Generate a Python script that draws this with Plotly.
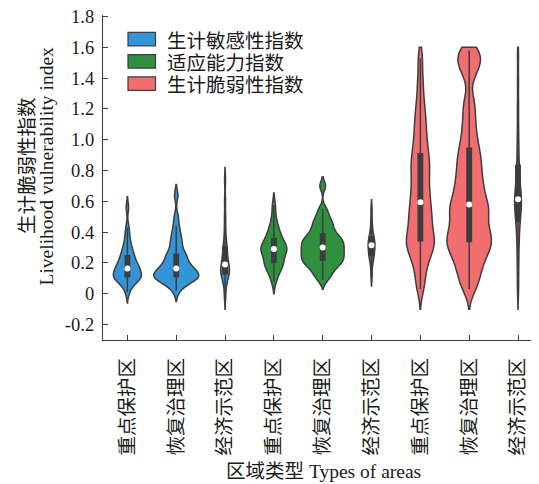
import numpy as np
import plotly.graph_objects as go

# ---------------- data ----------------
areas = ["重点保护区", "恢复治理区", "经济示范区"]
index_names = ["生计敏感性指数", "适应能力指数", "生计脆弱性指数"]
y_tickvals = [-0.2, 0, 0.2, 0.4, 0.6, 0.8, 1.0, 1.2, 1.4, 1.6, 1.8]
y_ticktext = ["-0.2", "0", "0.2", "0.4", "0.6", "0.8", "1.0", "1.2", "1.4", "1.6", "1.8"]
x_title = "区域类型 Types of areas"
y_title_cn = "生计脆弱性指数"
y_title_en = "Livelihood vulnerability index"

# sensitivity index samples
sens_key = [0.01, 0.05, 0.07, 0.08, 0.09, 0.10, 0.10, 0.11, 0.11, 0.12, 0.12, 0.13, 0.14, 0.15,
            0.16, 0.165, 0.17, 0.18, 0.19, 0.20, 0.21, 0.23, 0.24, 0.25, 0.27, 0.29, 0.31, 0.34,
            0.38, 0.43, 0.56]
sens_rest = [0.02, 0.05, 0.07, 0.08, 0.09, 0.09, 0.10, 0.10, 0.11, 0.11, 0.12, 0.12, 0.13, 0.13,
             0.14, 0.15, 0.16, 0.165, 0.17, 0.18, 0.19, 0.20, 0.22, 0.24, 0.25, 0.25, 0.26, 0.30,
             0.32, 0.34, 0.37, 0.40, 0.44, 0.50, 0.64]
sens_econ = [-0.02, 0.04, 0.08, 0.10, 0.12, 0.125, 0.13, 0.14, 0.15, 0.16, 0.17, 0.18, 0.19,
             0.20, 0.22, 0.24, 0.26, 0.28, 0.30, 0.32, 0.36, 0.42, 0.50, 0.60, 0.74]
# adaptive capacity index samples
adapt_key = [0.08, 0.12, 0.15, 0.17, 0.18, 0.19, 0.20, 0.21, 0.23, 0.25, 0.26, 0.27, 0.28, 0.29,
             0.295, 0.30, 0.31, 0.32, 0.33, 0.35, 0.36, 0.38, 0.40, 0.42, 0.45, 0.50, 0.575]
adapt_rest = [0.09, 0.12, 0.14, 0.16, 0.18, 0.19, 0.20, 0.21, 0.22, 0.23, 0.24, 0.25, 0.26, 0.27,
              0.28, 0.29, 0.30, 0.31, 0.32, 0.33, 0.34, 0.35, 0.36, 0.37, 0.385, 0.40, 0.42, 0.44,
              0.46, 0.48, 0.51, 0.55, 0.70]
adapt_econ = [0.11, 0.17, 0.21, 0.23, 0.24, 0.25, 0.27, 0.28, 0.29, 0.30, 0.315, 0.32, 0.33, 0.34,
              0.35, 0.365, 0.38, 0.40, 0.43, 0.48, 0.55]
# vulnerability index samples
vuln_key = [0.03, 0.09, 0.15, 0.20, 0.23, 0.26, 0.29, 0.31, 0.32, 0.34, 0.35, 0.38, 0.40, 0.43,
            0.45, 0.48, 0.50, 0.53, 0.55, 0.58, 0.61, 0.64, 0.67, 0.70, 0.74, 0.77, 0.80, 0.84,
            0.86, 0.89, 0.93, 0.97, 1.01, 1.06, 1.11, 1.16, 1.22, 1.30, 1.40, 1.53]
vuln_rest = [0.03, 0.08, 0.13, 0.17, 0.20, 0.24, 0.27, 0.29, 0.31, 0.33, 0.35, 0.37, 0.39, 0.42,
             0.44, 0.47, 0.50, 0.53, 0.55, 0.57, 0.59, 0.62, 0.66, 0.69, 0.72, 0.76, 0.80, 0.84,
             0.88, 0.92, 0.97, 1.03, 1.10, 1.18, 1.26, 1.42, 1.48, 1.52, 1.55, 1.58]
vuln_econ = [0.03, 0.15, 0.25, 0.33, 0.39, 0.44, 0.48, 0.51, 0.54, 0.56, 0.58, 0.60, 0.614, 0.63,
             0.66, 0.69, 0.72, 0.76, 0.82, 0.88, 0.97, 1.08, 1.22, 1.38, 1.55]

series = [
    [sens_key, sens_rest, sens_econ],
    [adapt_key, adapt_rest, adapt_econ],
    [vuln_key, vuln_rest, vuln_econ],
]

# ---------------- style ----------------
colors = ["#3394d8", "#2f9140", "#f26d6f"]
edge = "#3d3d3d"
violin_widths = [0.574, 0.92, 0.18, 0.53, 0.88, 0.14, 0.57, 0.91, 0.14]
bandwidths = [0.035, 0.035, 0.04, 0.04, 0.03, 0.03, 0.065, 0.065, 0.065]
clip_top = 1.6
box_full_width = 0.09  # data units

# the page body adds an 8px margin: figure is placed at (8, 8) in the window
OFF = 8
WIN_W, WIN_H = 539, 484
W, H = WIN_W - OFF, WIN_H - OFF
plot_left, plot_top, plot_bottom = 103, 15, 340   # window pixels
y_range = [-0.3, 1.81]
L, R, T, B = plot_left - OFF, 0, plot_top - OFF, H - (plot_bottom - OFF)
PW, PH = W - L - R, H - T - B

def px_x(px):
    return (px - OFF - L) / PW

def px_y(py):
    return (H - B - (py - OFF)) / PH

serif_cjk = "Liberation Serif, 'Times New Roman', 'Noto Sans CJK SC', serif"
cjk = "'Noto Sans CJK SC', sans-serif"
txt = "#1a1a1a"

fig = go.Figure()
pos = 0
positions, medians, labels = [], [], []
for gi, samples in enumerate(series):
    for ai, vals in enumerate(samples):
        w = violin_widths[pos]
        bw = bandwidths[pos]
        extra = {}
        if gi == 2:
            extra = dict(spanmode="manual", span=[min(vals) - 2 * bw, clip_top])
        fig.add_trace(go.Violin(
            y=vals, x0=pos, name=index_names[gi], legendgroup=index_names[gi],
            showlegend=False, width=w, bandwidth=bw, scalemode="width",
            fillcolor=colors[gi], opacity=1,
            line=dict(color=edge, width=1.5),
            points=False, hoverinfo="skip",
            box=dict(visible=True, width=min(box_full_width / w, 0.8),
                     fillcolor=edge, line=dict(color=edge, width=1.5)),
            meanline=dict(visible=False),
            **extra,
        ))
        positions.append(pos)
        medians.append(float(np.median(vals)))
        labels.append(areas[ai])
        pos += 1

fig.add_trace(go.Scatter(
    x=positions, y=medians, mode="markers",
    marker=dict(color="white", size=6, line=dict(width=0)),
    showlegend=False, hoverinfo="skip",
))

# legend drawn like the reference (wide swatches)
shapes = []
annotations = []
for i, name in enumerate(index_names):
    top = 32.3 + 22.3 * i
    shapes.append(dict(type="rect", xref="paper", yref="paper",
                       x0=px_x(128), x1=px_x(155.5), y0=px_y(top + 13.5), y1=px_y(top),
                       fillcolor=colors[i], line=dict(color=edge, width=1.2), layer="above"))
    annotations.append(dict(x=px_x(165), y=px_y(top + 7), xref="paper", yref="paper",
                            text=name, showarrow=False, xanchor="left", yanchor="middle",
                            font=dict(family=cjk, size=19.5, color=txt)))

annotations.append(dict(x=px_x(25), y=px_y(166), xref="paper", yref="paper", text=y_title_cn,
                        textangle=-90, showarrow=False, xanchor="center", yanchor="middle",
                        font=dict(family=cjk, size=19.5, color=txt)))
annotations.append(dict(x=px_x(45.5), y=px_y(166), xref="paper", yref="paper", text=y_title_en,
                        textangle=-90, showarrow=False, xanchor="center", yanchor="middle",
                        font=dict(family=serif_cjk, size=19.5, color=txt)))
annotations.append(dict(x=px_x(323), y=px_y(471), xref="paper", yref="paper", text=x_title,
                        showarrow=False, xanchor="center", yanchor="middle",
                        font=dict(family=serif_cjk, size=19.5, color=txt)))

fig.update_layout(
    width=W, height=H,
    margin=dict(l=L, r=R, t=T, b=B, pad=0),
    paper_bgcolor="white", plot_bgcolor="white",
    violinmode="overlay",
    showlegend=False,
    shapes=shapes, annotations=annotations,
    font=dict(family=serif_cjk, size=19, color=txt),
)
fig.update_xaxes(
    type="linear", range=[-0.5, 8.43], tickmode="array",
    tickvals=positions, ticktext=labels, tickangle=-90,
    tickfont=dict(family=cjk, size=19.5, color=txt),
    ticks="inside", ticklen=5, tickwidth=1.2, tickcolor=edge,
    showline=True, linecolor=edge, linewidth=1.3, showgrid=False, zeroline=False,
    ticklabelstandoff=9, automargin=False, ticklabeloverflow="allow",
)
fig.update_yaxes(
    range=y_range, tickmode="array", tickvals=y_tickvals, ticktext=y_ticktext,
    tickfont=dict(family=serif_cjk, size=18.5, color=txt),
    ticks="inside", ticklen=5, tickwidth=1.2, tickcolor=edge,
    showline=True, linecolor=edge, linewidth=1.3, showgrid=False, zeroline=False,
    ticklabelstandoff=4, automargin=False, ticklabeloverflow="allow",
)

fig.write_html("out.html")
